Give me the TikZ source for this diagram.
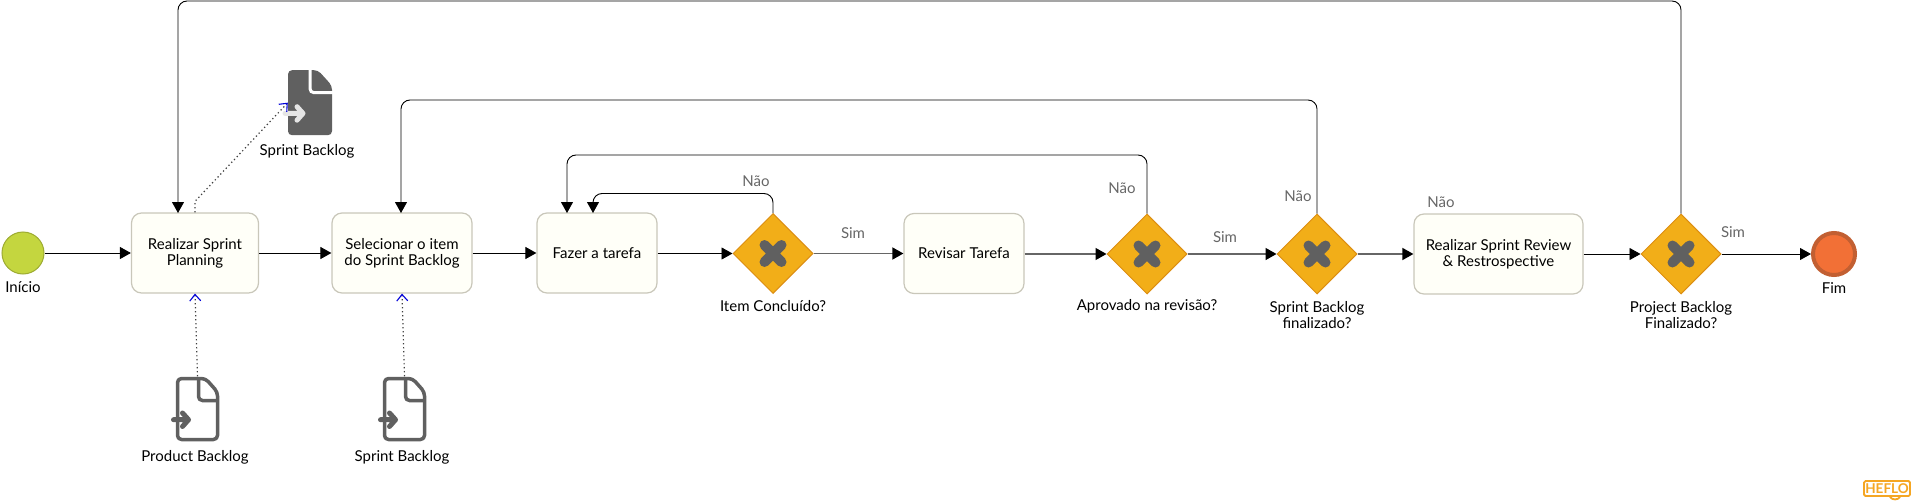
\documentclass[tikz,border=0pt]{standalone}
\usepackage{fontspec}
\setmainfont{Lato}
\usetikzlibrary{arrows.meta, shapes.geometric}
\definecolor{taskfill}{HTML}{FFFFF8}
\definecolor{taskline}{HTML}{C9C7BA}
\definecolor{gateorange}{HTML}{F2AE18}
\definecolor{gateline}{HTML}{DC8E12}
\definecolor{iconGrey}{HTML}{606060}
\definecolor{startgreen}{HTML}{C4D63F}
\definecolor{endorange}{HTML}{F27036}
\definecolor{endline}{HTML}{C25F32}
\definecolor{heflo}{HTML}{F5A623}
\tikzset{
  task/.style={rectangle, draw=taskline, fill=taskfill, rounded corners=10pt, line width=1.2pt, minimum height=80pt, inner sep=0pt, align=center, font=\fontsize{15}{16}\selectfont},
  gate/.style={diamond, draw=gateline, fill=gateorange, line width=1pt, minimum width=80pt, minimum height=80pt, inner sep=0pt},
  gatecross/.style={draw=iconGrey, line width=10pt, line cap=round},
  startev/.style={circle, draw=startgreen!80!black, fill=startgreen, line width=1pt, minimum size=42pt, inner sep=0pt},
  endev/.style={circle, draw=endline, fill=endorange, line width=4pt, minimum size=42pt, inner sep=0pt},
  docbox/.style={rectangle, minimum width=44pt, minimum height=65pt, inner sep=0pt},
  txt/.style={align=center, inner sep=0pt, font=\fontsize{15}{16}\selectfont},
  answer/.style={inner sep=0pt, text=black!60, font=\fontsize{15}{16}\selectfont},
  flow/.style={-{Triangle[length=11pt, width=12pt]}, line width=0.9pt, rounded corners=9pt},
  flowgrey/.style={flow, draw=black!60, line width=1.5pt, {-{Triangle[length=11pt, width=12pt, black]}}},
  assoc/.style={-{Straight Barb[length=6.5pt, width=11pt, color=blue!85!black, line width=1.1pt]}, draw=black!75, line width=1.2pt, dash pattern=on 1.3pt off 2.7pt},
  pics/docoutline/.style={code={
    \draw[iconGrey, line width=3.5pt, line join=round, rounded corners=4pt, fill=white] (-20,-30.5) -- (8,-30.5) -- (20,-17) -- (20,30.5) -- (-20,30.5) -- cycle;
    \draw[iconGrey, line width=3.5pt, rounded corners=4pt] (1,-30.5) -- (1,-8.5) -- (20,-8.5);
    \draw[iconGrey, line width=5pt, line cap=round, line join=round] (-24,10.7) -- (-10,10.7) (-15,4) -- (-9,10.7) -- (-15,17.5);
  }},
  pics/docsolid/.style={code={
    \fill[iconGrey, rounded corners=4pt] (-22,-32.5) -- (8,-32.5) -- (22,-17) -- (22,32.5) -- (-22,32.5) -- cycle;
    \draw[white, line width=3pt, rounded corners=4pt] (0,-33.5) -- (0,-10) -- (23,-10);
    \draw[white!90!black, line width=5pt, line cap=round, line join=round] (-25,10.7) -- (-8,10.7) (-13,4) -- (-7,10.7) -- (-13,17.5);
  }},
}
\begin{document}
\begin{tikzpicture}[x=1pt, y=-1pt]
  \useasboundingbox (0,0) rectangle (1912,503);
  % Nodes
  \node (start) [startev] at (23, 253) {};
  \node (plan) [task, minimum width=127pt] at (195, 253) {Realizar Sprint\\Planning};
  \node (select) [task, minimum width=140pt] at (402, 253) {Selecionar o item\\do Sprint Backlog};
  \node (work) [task, minimum width=120pt] at (597, 253) {Fazer a tarefa};
  \node (gwItem) [gate] at (773, 253.5) {};
  \node (check) [task, minimum width=120pt] at (964, 253.5) {Revisar Tarefa};
  \node (gwReview) [gate] at (1147, 254) {};
  \node (gwSprint) [gate] at (1317, 254) {};
  \node (review) [task, minimum width=169pt] at (1498.5, 254) {Realizar Sprint Review\\\& Restrospective};
  \node (gwProject) [gate] at (1681, 254) {};
  \node (finish) [endev] at (1834, 254) {};
  \node (docOut) [docbox] at (310, 102.7) {};
  \node (docProduct) [docbox] at (197.5, 409) {};
  \node (docSprint) [docbox] at (404.5, 409) {};
  % Icons
  \pic at (docOut) {docsolid};
  \pic at (docProduct) {docoutline};
  \pic at (docSprint) {docoutline};
  \foreach \gw in {gwItem, gwReview, gwSprint, gwProject}
    \draw[gatecross, shift={(\gw.center)}] (-8.5,-8.5) -- (8.5,8.5) (-8.5,8.5) -- (8.5,-8.5);
  % Labels
  \node (lblStart) [txt] at (23, 287) {Início};
  \node (lblEnd) [txt] at (1834, 288.5) {Fim};
  \node (lblDocOut) [txt] at (307, 151) {Sprint Backlog};
  \node (lblDocProduct) [txt] at (195, 457) {Product Backlog};
  \node (lblDocSprint) [txt] at (402, 457) {Sprint Backlog};
  \node (lblItem) [txt] at (773, 306) {Item Concluído?};
  \node (lblReview) [txt] at (1147, 306) {Aprovado na revisão?};
  \node (lblSprint) [txt] at (1317, 315) {Sprint Backlog\\finalizado?};
  \node (lblProject) [txt] at (1681, 315) {Project Backlog\\Finalizado?};
  \node (noItem) [answer] at (756, 181) {Não};
  \node (yesItem) [answer] at (853, 233) {Sim};
  \node (noReview) [answer] at (1122, 188) {Não};
  \node (yesReview) [answer] at (1225, 237) {Sim};
  \node (noSprint) [answer] at (1298, 196) {Não};
  \node (noReview2) [answer] at (1441, 202) {Não};
  \node (yesProject) [answer] at (1733, 232) {Sim};
  % Arrows
  \draw[flow] (start) -- (plan);
  \draw[flow] (plan) -- (select);
  \draw[flow] (select.east |- work) -- (work);
  \draw[flow] (work.east |- gwItem) -- (gwItem);
  \draw[flowgrey] (gwItem) -- (check);
  \draw[flowgrey] (check.east |- gwReview) -- (gwReview);
  \draw[flowgrey] (gwReview) -- (gwSprint);
  \draw[flowgrey] (gwSprint) -- (review);
  \draw[flow] (review) -- (gwProject);
  \draw[flow] (gwProject) -- (finish);
  % Return loops
  \coordinate (planIn) at (178, 213);
  \coordinate (selectIn) at (401, 213);
  \coordinate (workInA) at (567, 213);
  \coordinate (workInB) at (593, 213);
  \draw[flow] (gwProject.north) |- (planIn |- 0,1) -- (planIn);
  \draw[flow] (gwSprint.north) |- (selectIn |- 0,100) -- (selectIn);
  \draw[flow] (gwReview.north) |- (workInA |- 0,155) -- (workInA);
  \draw[flow] (gwItem.north) |- (workInB |- 0,193.5) -- (workInB);
  % Data associations
  \draw[assoc] (plan.north) -- ++(0,-11) -- (docOut.west);
  \draw[assoc] (docProduct.north) -- (plan.south);
  \draw[assoc] (docSprint.north) -- (select.south);
  % Logo
  \node (logo) [draw=heflo, line width=1.8pt, rounded corners=1.5pt, inner xsep=1pt, inner ysep=1pt, text=heflo, minimum width=46pt, minimum height=15pt, font=\fontsize{13.5}{13.5}\selectfont\bfseries] at (1887, 488.5) {HEFLO};
  \draw[heflo, line width=1.8pt, line cap=round] ([xshift=3pt]logo.south) to[bend right=60] ([xshift=13pt]logo.south);
\end{tikzpicture}
\end{document}
